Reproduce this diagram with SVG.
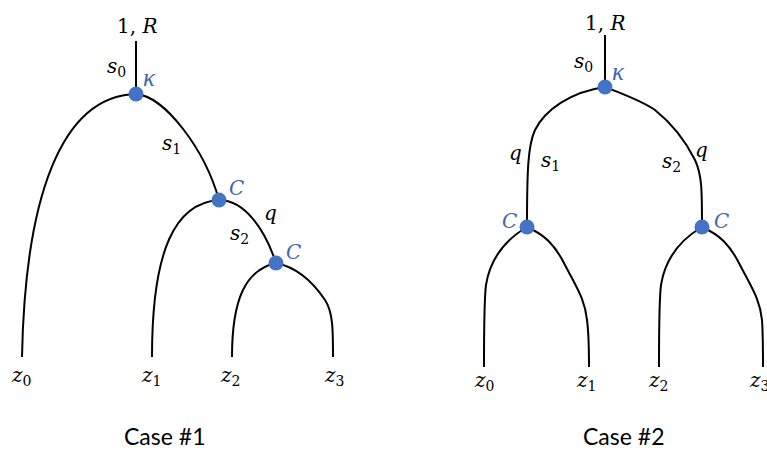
<svg xmlns="http://www.w3.org/2000/svg" width="767" height="452" viewBox="0 0 767 452">
<style>
.e{fill:none;stroke:#000;stroke-width:2}
.n{fill:#4472C4}
.m{font-family:"DejaVu Serif","Liberation Serif",serif;font-style:italic;font-size:20px;fill:#000}
.u{font-style:normal}
.sb{font-style:normal;font-size:14px}
.b{fill:#3F67B0}
.k{font-family:"Liberation Serif","DejaVu Serif",serif;font-size:25px}
.cap{font-family:Lato,"Liberation Sans",sans-serif;font-size:23px;fill:#000}
</style>
<rect width="767" height="452" fill="#fff"/>
<g id="connectors">
<path class="e" d="M136,41 L136,94"/>
<path class="e" d="M136,94 C60,96 25,200 22,357"/>
<path class="e" d="M136,94 C165,96 205,150 219,200"/>
<path class="e" d="M219,200 C175,203 152,250 152,357"/>
<path class="e" d="M219,200 C245,200 265,230 276,263"/>
<path class="e" d="M276,263 C245,270 232,300 232,357"/>
<path class="e" d="M276,263 C300,268 315,285 325,300 C333,312 333,330 333,357"/>
<path class="e" d="M605,35 L605,87"/>
<path class="e" d="M605,87 C570,92 545,110 535,130 C528,145 527,170 527,227"/>
<path class="e" d="M605,87 C625,95 640,100 655,110 C670,122 685,140 695,160 C702,175 702,190 702,227"/>
<path class="e" d="M527,227 C505,240 490,260 486,285 C484,300 484,330 484,367"/>
<path class="e" d="M527,227 C545,235 555,245 565,265 C578,290 585,300 587,320 C589,335 589,350 589,367"/>
<path class="e" d="M702,227 C680,240 665,260 661,285 C659,300 659,330 659,367"/>
<path class="e" d="M702,227 C720,235 730,245 740,265 C753,290 760,300 762,320 C763,335 763,350 763,367"/>
</g>
<g id="case1">
<g id="root1"><text class="m" x="117" y="33"><tspan class="u">1, </tspan>R</text></g>
<g id="k1"><circle class="n" cx="136" cy="94" r="7.5"/><text class="m b k" x="143" y="86">κ</text><text class="m" x="107" y="73">s<tspan class="sb" dy="4">0</tspan></text></g>
<g id="c1a"><circle class="n" cx="219" cy="200" r="7.5"/><text class="m b" x="229" y="195">C</text><text class="m" x="162" y="150">s<tspan class="sb" dy="4">1</tspan></text></g>
<g id="c1b"><circle class="n" cx="276" cy="263" r="7.5"/><text class="m b" x="286" y="259">C</text><text class="m" x="264" y="220">q</text><text class="m" x="230" y="240">s<tspan class="sb" dy="4">2</tspan></text></g>
<g id="z10"><text class="m" x="12" y="382">z<tspan class="sb" dy="4">0</tspan></text></g>
<g id="z11"><text class="m" x="142" y="382">z<tspan class="sb" dy="4">1</tspan></text></g>
<g id="z12"><text class="m" x="221" y="382">z<tspan class="sb" dy="4">2</tspan></text></g>
<g id="z13"><text class="m" x="325" y="382">z<tspan class="sb" dy="4">3</tspan></text></g>
<text class="cap" x="124" y="445">Case #1</text>
</g>
<g id="case2">
<g id="root2"><text class="m" x="585" y="30"><tspan class="u">1, </tspan>R</text></g>
<g id="k2"><circle class="n" cx="605" cy="87" r="7.5"/><text class="m b k" x="612" y="80">κ</text><text class="m" x="574" y="68">s<tspan class="sb" dy="4">0</tspan></text></g>
<g id="c2a"><circle class="n" cx="527" cy="227" r="7.5"/><text class="m b" x="502" y="228">C</text><text class="m" x="509" y="160">q</text><text class="m" x="541" y="167">s<tspan class="sb" dy="4">1</tspan></text></g>
<g id="c2b"><circle class="n" cx="702" cy="227" r="7.5"/><text class="m b" x="714" y="228">C</text><text class="m" x="695" y="157">q</text><text class="m" x="662" y="168">s<tspan class="sb" dy="4">2</tspan></text></g>
<g id="z20"><text class="m" x="475" y="387">z<tspan class="sb" dy="4">0</tspan></text></g>
<g id="z21"><text class="m" x="577" y="387">z<tspan class="sb" dy="4">1</tspan></text></g>
<g id="z22"><text class="m" x="649" y="387">z<tspan class="sb" dy="4">2</tspan></text></g>
<g id="z23"><text class="m" x="750" y="387">z<tspan class="sb" dy="4">3</tspan></text></g>
<text class="cap" x="583" y="445">Case #2</text>
</g>
</svg>
